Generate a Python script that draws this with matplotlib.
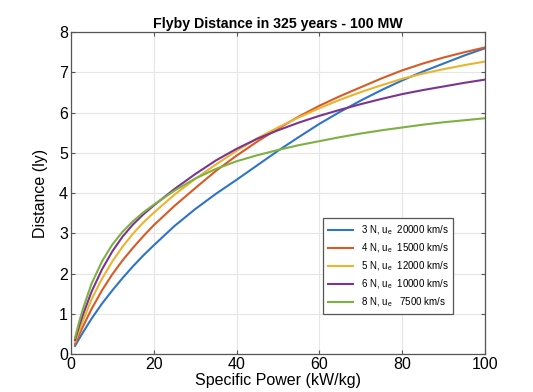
import numpy as np
import matplotlib
matplotlib.use("Agg")
import matplotlib.pyplot as plt

plt.rcParams['font.family'] = ['Liberation Sans', 'DejaVu Sans']
plt.rcParams['mathtext.fontset'] = 'custom'
plt.rcParams['mathtext.rm'] = 'Liberation Sans'

# Specific power (kW/kg)
power = [1, 2, 3, 5, 7.5, 10, 12.5, 15, 17.5, 20, 25, 30, 35, 40, 45, 50,
         55, 60, 65, 70, 75, 80, 85, 90, 95, 100]

# Flyby distance (ly) for each thruster case
dist_3N = [0.2, 0.38, 0.55, 0.88, 1.25, 1.58, 1.89, 2.18, 2.45, 2.7, 3.18, 3.6,
           3.98, 4.33, 4.69, 5.05, 5.39, 5.72, 6.02, 6.3, 6.56, 6.8, 7.02, 7.22,
           7.42, 7.6]
dist_4N = [0.25, 0.48, 0.7, 1.12, 1.58, 1.98, 2.33, 2.64, 2.93, 3.2, 3.68, 4.12,
           4.55, 4.93, 5.28, 5.6, 5.9, 6.17, 6.41, 6.63, 6.85, 7.05, 7.22, 7.37,
           7.5, 7.62]
dist_5N = [0.3, 0.58, 0.85, 1.36, 1.87, 2.3, 2.67, 2.99, 3.27, 3.51, 3.96, 4.35,
           4.71, 5.05, 5.36, 5.63, 5.88, 6.11, 6.32, 6.51, 6.68, 6.84, 6.97, 7.08,
           7.18, 7.27]
dist_6N = [0.35, 0.7, 1.0, 1.55, 2.1, 2.55, 2.92, 3.22, 3.47, 3.69, 4.1, 4.47,
           4.81, 5.1, 5.35, 5.56, 5.75, 5.92, 6.07, 6.21, 6.34, 6.46, 6.56, 6.65,
           6.74, 6.82]
dist_8N = [0.4, 0.8, 1.15, 1.75, 2.3, 2.72, 3.04, 3.3, 3.52, 3.71, 4.06, 4.36,
           4.6, 4.79, 4.94, 5.07, 5.19, 5.29, 5.39, 5.48, 5.56, 5.63, 5.7, 5.76,
           5.81, 5.86]

labels = [r'3 N, u$_{\rm e}$  20000 km/s',
          r'4 N, u$_{\rm e}$  15000 km/s',
          r'5 N, u$_{\rm e}$  12000 km/s',
          r'6 N, u$_{\rm e}$  10000 km/s',
          r'8 N, u$_{\rm e}$   7500 km/s']
colors = ['#2f74c6', '#d95a25', '#ecb32e', '#7b3590', '#7eb142']
series = [dist_3N, dist_4N, dist_5N, dist_6N, dist_8N]

fig = plt.figure(figsize=(5.33, 3.92), dpi=100)
ax = fig.add_axes([0.133, 0.097, 0.777, 0.821])

for d, c, lab in zip(series, colors, labels):
    ax.plot(power, d, color=c, linewidth=1.5, label=lab)

ax.set_xlim(0, 100)
ax.set_ylim(0, 8)
ax.set_xticks([0, 20, 40, 60, 80, 100])
ax.set_yticks(range(0, 9))
ax.grid(True, color='#e6e6e6', linewidth=0.8)
ax.set_axisbelow(True)
ax.tick_params(direction='in', top=True, right=True, labelsize=11.5,
               length=3, color='#555555', pad=2)
for s in ax.spines.values():
    s.set_color('#555555')
    s.set_linewidth(0.9)

ax.set_xlabel('Specific Power (kW/kg)', fontsize=11.5, labelpad=1)
ax.set_ylabel('Distance (ly)', fontsize=11.5, labelpad=8)
ax.set_title('Flyby Distance in 325 years - 100 MW', fontsize=10.2,
             fontweight='bold', pad=3)

leg = ax.legend(loc='lower right', bbox_to_anchor=(0.935, 0.11), fontsize=7,
                handlelength=2.6, borderpad=0.5, labelspacing=0.45,
                fancybox=False, framealpha=1, edgecolor='#555555')
leg.get_frame().set_linewidth(0.9)

fig.savefig('out.png', dpi=100)
